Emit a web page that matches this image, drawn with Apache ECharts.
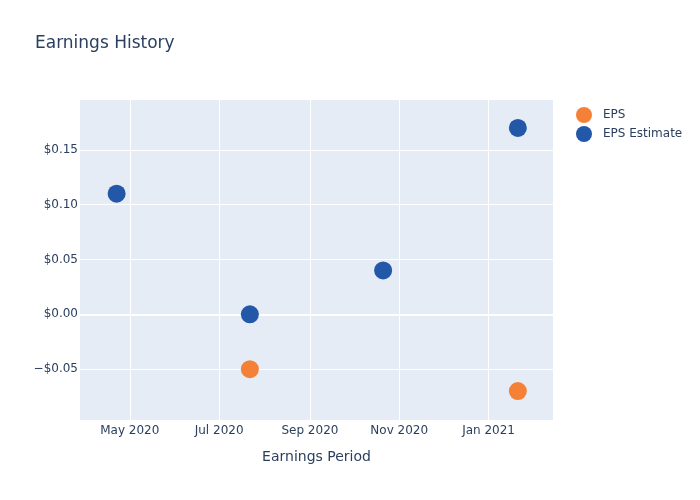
<!DOCTYPE html>
<html><head><meta charset="utf-8">
<script src="https://cdn.jsdelivr.net/npm/echarts@6/dist/echarts.min.js"></script>
<style>html,body{margin:0;padding:0;background:#fff}#c{width:700px;height:500px}</style>
</head><body><div id="c"></div>
<script>
const dates = ['2020-04-22', '2020-07-22', '2020-10-21', '2021-01-21'];
const eps = [null, -0.05, null, -0.07];
const epsEstimate = [0.11, 0.0, 0.04, 0.17];
const xTicks = ['2020-05-01', '2020-07-01', '2020-09-01', '2020-11-01', '2021-01-01'];
const xTickLabels = ['May 2020', 'Jul 2020', 'Sep 2020', 'Nov 2020', 'Jan 2021'];
const yTicks = [-0.05, 0, 0.05, 0.10, 0.15];

const ts = d => new Date(d + 'T00:00:00Z').getTime();
const tickTs = xTicks.map(ts);
const font = 'DejaVu Sans, sans-serif';
const txt = '#2a3f5f';

const chart = echarts.init(document.getElementById('c'), null, {renderer: 'canvas'});
chart.setOption({
  animation: false,
  backgroundColor: '#fff',
  title: {text: 'Earnings History', left: 30, top: 30, textStyle: {fontFamily: font, fontSize: 17, fontWeight: 'normal', color: txt}},
  legend: {orient: 'vertical', left: 571, top: 102, itemGap: 3, itemWidth: 16, itemHeight: 16, icon: 'circle',
    textStyle: {fontFamily: font, fontSize: 12, color: txt, padding: [0, 0, 0, 6]},
    data: ['EPS', 'EPS Estimate']},
  grid: {left: 80, right: 147, top: 100, bottom: 80, show: true, backgroundColor: '#e5ecf6', borderWidth: 0},
  xAxis: {
    type: 'value', min: ts('2020-03-28'), max: ts('2021-02-14'),
    name: 'Earnings Period', nameLocation: 'middle', nameGap: 30,
    nameTextStyle: {fontFamily: font, fontSize: 14, color: txt},
    axisLine: {show: false}, axisTick: {show: false, customValues: tickTs},
    axisLabel: {customValues: tickTs, fontFamily: font, fontSize: 12, color: txt, margin: 5,
      formatter: v => { const i = tickTs.indexOf(v); return i >= 0 ? xTickLabels[i] : ''; }},
    splitLine: {show: true, lineStyle: {color: '#fff', width: 1}}
  },
  yAxis: {
    type: 'value', min: -0.0964, max: 0.1955,
    axisLine: {show: false}, axisTick: {show: false, customValues: yTicks},
    axisLabel: {customValues: yTicks, fontFamily: font, fontSize: 12, color: txt, margin: 2,
      formatter: v => (v < -1e-9 ? '\u2212$' : '$') + Math.abs(v).toFixed(2)},
    splitLine: {show: true, lineStyle: {color: '#fff', width: 1}}
  },
  series: [
    {name: 'zero', type: 'line', data: [], z: 0, silent: true,
      markLine: {z: 0, silent: true, symbol: 'none', label: {show: false}, lineStyle: {color: '#fff', width: 2, type: 'solid'}, data: [{yAxis: 0}]}},
    {name: 'EPS', type: 'scatter', symbolSize: 18, z: 3, itemStyle: {color: '#f58137', opacity: 1},
      data: dates.map((d, i) => [ts(d), eps[i]]).filter(p => p[1] !== null)},
    {name: 'EPS Estimate', type: 'scatter', symbolSize: 18, z: 3, itemStyle: {color: '#2357a8', opacity: 1},
      data: dates.map((d, i) => [ts(d), epsEstimate[i]])}
  ]
});
</script></body></html>
